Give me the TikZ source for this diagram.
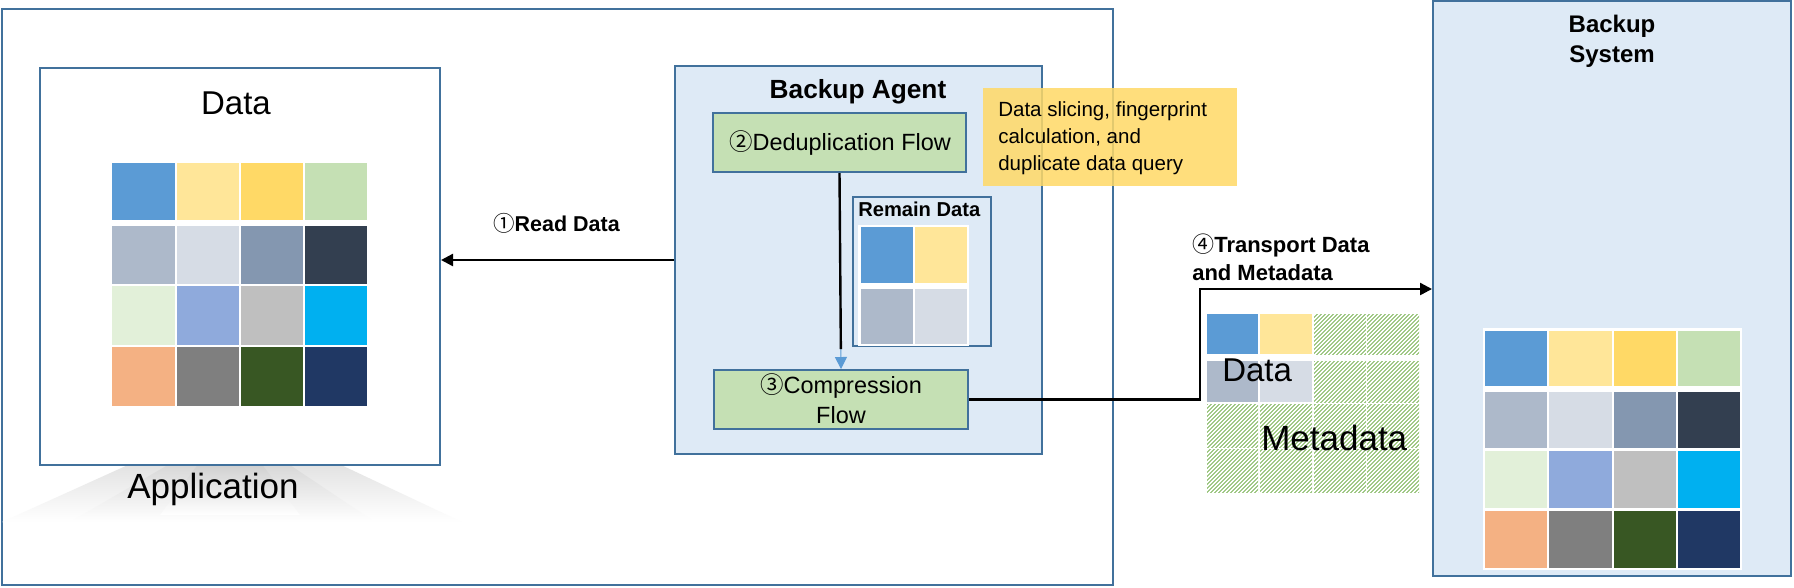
\documentclass[tikz,border=0pt]{standalone}
\usepackage{fontspec}
\setmainfont{Liberation Sans}
\newfontfamily\cjk{Noto Sans CJK SC}
\usetikzlibrary{arrows.meta,fit,patterns.meta,calc}
\definecolor{bord}{HTML}{41719C}
\definecolor{panel}{HTML}{DEEAF6}
\definecolor{flowgreen}{HTML}{C5E0B4}
\definecolor{noteyellow}{HTML}{FFD966}
\definecolor{hatchgreen}{HTML}{70AD47}
\definecolor{arrowblue}{HTML}{5B9BD5}
\definecolor{g11}{HTML}{5B9BD5}\definecolor{g12}{HTML}{FFE699}\definecolor{g13}{HTML}{FFD966}\definecolor{g14}{HTML}{C5E0B4}
\definecolor{g21}{HTML}{ADB9CA}\definecolor{g22}{HTML}{D6DCE5}\definecolor{g23}{HTML}{8497B0}\definecolor{g24}{HTML}{333F50}
\definecolor{g31}{HTML}{E2F0D9}\definecolor{g32}{HTML}{8FAADC}\definecolor{g33}{HTML}{BFBFBF}\definecolor{g34}{HTML}{00B0F0}
\definecolor{g41}{HTML}{F4B183}\definecolor{g42}{HTML}{7F7F7F}\definecolor{g43}{HTML}{385723}\definecolor{g44}{HTML}{203864}
\begin{document}
\begin{tikzpicture}[x=0.75pt,y=-0.75pt,
  box/.style={draw=bord,line width=1.5pt,inner sep=0pt},
  lbl/.style={inner sep=0pt,text=black},
  conn/.style={draw=black,line width=1.8pt},
  tip/.style={-{Triangle[length=9pt,width=9pt]}},
  hatch/.style={pattern={Lines[angle=45,distance=2.1213pt,line width=0.62pt]},pattern color=hatchgreen}]
\useasboundingbox (0,0) rectangle (1794,587);
\fill[white] (0,0) rectangle (1794,587);

% outer application host
\node[box,fit={(2,9) (1113,585)}] (host) {};

% shadow under Application
\shade[top color=black!13,bottom color=white] (150,455) -- (320,455) -- (462,522) -- (2,522) -- cycle;
\shade[top color=black!18,bottom color=white] (185,455) -- (275,455) -- (375,522) -- (70,522) -- cycle;
\shade[top color=black!22,bottom color=white] (205,455) -- (255,455) -- (300,515) -- (160,515) -- cycle;

% data box
\node[box,fill=white,fit={(40,68) (440,465)}] (databox) {};
\node[lbl,anchor=base,font=\fontsize{24.75pt}{28pt}\selectfont] (datatitle) at (236,114) {Data};
\foreach \r/\ya/\yb in {1/163/220,2/226/284,3/286/345,4/347/406}
  \foreach \c/\xa/\xb in {1/112/175,2/177/239,3/241/303,4/305/367}
    \fill[fill=g\r\c] (\xa,\ya) rectangle (\xb,\yb);
\node[lbl,anchor=base,font=\fontsize{26.25pt}{30pt}\selectfont] (apptext) at (213,498) {Application};

% backup agent
\node[box,fill=panel,fit={(675,66) (1042,454)}] (agent) {};
\node[lbl,anchor=base,font=\bfseries\fontsize{19.7pt}{23pt}\selectfont] (agenttitle) at (858,98) {Backup Agent};
\node[box,fill=flowgreen,fit={(713,113) (966,172)}] (dedup) {};
\node[lbl,anchor=base,font=\fontsize{17.6pt}{21pt}\selectfont] (deduptext) at (840,150) {{\cjk ②}Deduplication Flow};
\node[box,fill=panel,fit={(853,197) (991,346)}] (remain) {};
\node[lbl,anchor=base west,font=\bfseries\fontsize{15.1pt}{18pt}\selectfont] (remaintext) at (858,216) {Remain Data};
\fill[white] (858,225) rectangle (969,346);
\fill[g11] (861,227) rectangle (913,283);
\fill[g12] (915,227) rectangle (967,283);
\fill[g21] (861,289) rectangle (913,344);
\fill[g22] (915,289) rectangle (967,344);
\node[box,fill=flowgreen,fit={(714,370) (968,429)}] (comp) {};
\node[lbl,anchor=base,font=\fontsize{17.6pt}{21pt}\selectfont] (comptext1) at (841,393) {{\cjk ③}Compression};
\node[lbl,anchor=base,font=\fontsize{17.6pt}{21pt}\selectfont] (comptext2) at (841,423) {Flow};

% note
\node[fill=noteyellow,fill opacity=0.85,inner sep=0pt,fit={(983,88) (1237,186)}] (note) {};
\node[lbl,anchor=base west,font=\fontsize{15.4pt}{20pt}\selectfont] (note1) at (998,116) {Data slicing, fingerprint};
\node[lbl,anchor=base west,font=\fontsize{15.4pt}{20pt}\selectfont] (note2) at (998,143) {calculation, and};
\node[lbl,anchor=base west,font=\fontsize{15.4pt}{20pt}\selectfont] (note3) at (998,170) {duplicate data query};

% backup system
\node[box,fill=panel,fit={(1433,1) (1791,576)}] (bsys) {};
\node[lbl,anchor=base,font=\bfseries\fontsize{18pt}{22pt}\selectfont] (bsys1) at (1612,32) {Backup};
\node[lbl,anchor=base,font=\bfseries\fontsize{18pt}{22pt}\selectfont] (bsys2) at (1612,62) {System};
\fill[white] (1483,328) rectangle (1742,570);
\foreach \r/\ya/\yb in {1/331/386,2/392/448,3/451/508,4/511/568}
  \foreach \c/\xa/\xb in {1/1485/1547,2/1549/1612,3/1614/1676,4/1678/1740}
    \fill[fill=g\r\c] (\xa,\ya) rectangle (\xb,\yb);

% transported data + metadata
\foreach \r/\ya/\yb in {1/314/354,2/361/402,3/404/447,4/449/492}
  \foreach \c/\xa/\xb in {1/1207/1258,2/1260/1312,3/1314/1366,4/1367/1419}
    \fill[hatch] (\xa,\ya) rectangle (\xb,\yb);
\fill[white] (1206,313) rectangle (1313,403);
\fill[g11] (1207,314) rectangle (1258,354);
\fill[g12] (1260,314) rectangle (1312,354);
\fill[g21] (1207,361) rectangle (1258,402);
\fill[g22] (1260,361) rectangle (1312,402);
\node[lbl,anchor=base west,font=\fontsize{24.75pt}{28pt}\selectfont] (pdata) at (1222,381) {Data};
\node[lbl,anchor=base west,font=\fontsize{26.25pt}{30pt}\selectfont] (pmeta) at (1261,450) {Metadata};

% connectors
\draw[conn,tip] (agent.west) -- (agent.west -| databox.east);
\node[lbl,anchor=base west,font=\fontsize{16.1pt}{19pt}\selectfont] (readlbl) at (493,231) {{\cjk ①}\textbf{Read Data}};

\draw[draw=arrowblue,line width=0.8pt,tip] (dedup.south) -- (comp.north);
\draw[conn,shorten >=15pt] (dedup.south) -- (comp.north);

\coordinate (bend) at (1200,289);
\draw[conn,tip] (comp.east) -| (bend) -- (bend -| bsys.west);
\node[lbl,anchor=base west,font=\bfseries\fontsize{16.5pt}{21pt}\selectfont] (tr1) at (1192,252) {{\mdseries\cjk ④}Transport Data};
\node[lbl,anchor=base west,font=\bfseries\fontsize{16.5pt}{21pt}\selectfont] (tr2) at (1192,280) {and Metadata};
\end{tikzpicture}
\end{document}
